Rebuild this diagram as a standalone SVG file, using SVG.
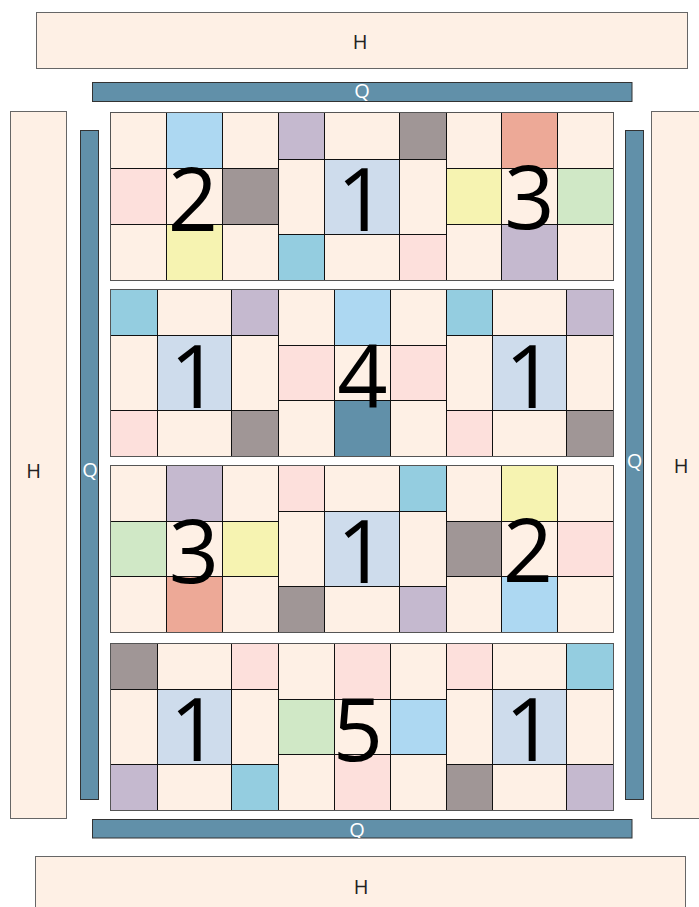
<svg xmlns="http://www.w3.org/2000/svg" width="699" height="907" viewBox="0 0 699 907">
<style>
.hb{fill:#FEF0E5;stroke:#666;stroke-width:1}
.qb{fill:#6190A9;stroke:#333;stroke-width:1}
.ht{font-family:"Open Sans","DejaVu Sans",sans-serif;font-size:20px;fill:#222;text-anchor:middle}
.qt{font-family:"Open Sans","DejaVu Sans",sans-serif;font-size:20px;fill:#fff;text-anchor:middle}
.dg{font-family:"Open Sans","DejaVu Sans",sans-serif;font-size:88px;fill:#000;text-anchor:middle}
rect.c{stroke:#111;stroke-width:1}
.o{fill:none;stroke:#555;stroke-width:1}
.p{fill:#FEF0E5}.sb{fill:#ADD8F2}.pk{fill:#FDE0DC}.gr{fill:#A09696}.lv{fill:#C5B9CF}
.cy{fill:#94CDE0}.bc{fill:#CEDCEC}.ye{fill:#F6F3B1}.sa{fill:#EDA997}.gn{fill:#D0E8C6}.st{fill:#6190A9}
</style>
<defs>
<clipPath id="cq1"><rect x="92.5" y="82.5" width="539.5" height="19"/></clipPath>
<clipPath id="cq2"><rect x="92.5" y="819.5" width="539.5" height="18.5"/></clipPath>
<clipPath id="cq3"><rect x="80.5" y="130.5" width="18" height="669"/></clipPath>
<clipPath id="cq4"><rect x="625.5" y="130.5" width="18" height="669"/></clipPath>
</defs>

<g id="h-top"><rect class="hb" x="36.5" y="12.5" width="651" height="56"/><text class="ht" x="360" y="49">H</text></g>
<g id="h-bottom"><rect class="hb" x="35.5" y="856.5" width="650" height="60"/><text class="ht" x="361" y="894">H</text></g>
<g id="h-left"><rect class="hb" x="10.5" y="111.5" width="56" height="707"/><text class="ht" x="33.5" y="477.5">H</text></g>
<g id="h-right"><rect class="hb" x="651.5" y="111.5" width="56" height="707"/><text class="ht" x="681" y="472.5">H</text></g>
<g id="q-top"><rect class="qb" x="92.5" y="82.5" width="539.5" height="19"/><text class="qt" x="362" y="97.8" clip-path="url(#cq1)">Q</text></g>
<g id="q-bottom"><rect class="qb" x="92.5" y="819.5" width="539.5" height="18.5"/><text class="qt" x="357" y="837.3" clip-path="url(#cq2)">Q</text></g>
<g id="q-left"><rect class="qb" x="80.5" y="130.5" width="18" height="669"/><text class="qt" x="90" y="477.3" clip-path="url(#cq3)">Q</text></g>
<g id="q-right"><rect class="qb" x="625.5" y="130.5" width="18" height="669"/><text class="qt" x="634.5" y="467.5" clip-path="url(#cq4)">Q</text></g>

<!-- Row 1 -->
<g id="b1a">
<rect class="c p" x="110.5" y="112.5" width="56" height="56"/><rect class="c sb" x="166.5" y="112.5" width="56" height="56"/><rect class="c p" x="222.5" y="112.5" width="56" height="56"/>
<rect class="c pk" x="110.5" y="168.5" width="56" height="56"/><rect class="c p" x="166.5" y="168.5" width="56" height="56"/><rect class="c gr" x="222.5" y="168.5" width="56" height="56"/>
<rect class="c p" x="110.5" y="224.5" width="56" height="56"/><rect class="c ye" x="166.5" y="224.5" width="56" height="56"/><rect class="c p" x="222.5" y="224.5" width="56" height="56"/>
<text class="dg" x="193" y="230.5">2</text>
</g>
<g id="b1b">
<rect class="c lv" x="278.5" y="112.5" width="46" height="47"/><rect class="c p" x="324.5" y="112.5" width="75" height="47"/><rect class="c gr" x="399.5" y="112.5" width="47" height="47"/>
<rect class="c p" x="278.5" y="159.5" width="46" height="75"/><rect class="c bc" x="324.5" y="159.5" width="75" height="75"/><rect class="c p" x="399.5" y="159.5" width="47" height="75"/>
<rect class="c cy" x="278.5" y="234.5" width="46" height="46"/><rect class="c p" x="324.5" y="234.5" width="75" height="46"/><rect class="c pk" x="399.5" y="234.5" width="47" height="46"/>
<text class="dg" x="362" y="230.5">1</text>
</g>
<g id="b1c">
<rect class="c p" x="446.5" y="112.5" width="55" height="56"/><rect class="c sa" x="501.5" y="112.5" width="56" height="56"/><rect class="c p" x="557.5" y="112.5" width="56" height="56"/>
<rect class="c ye" x="446.5" y="168.5" width="55" height="56"/><rect class="c p" x="501.5" y="168.5" width="56" height="56"/><rect class="c gn" x="557.5" y="168.5" width="56" height="56"/>
<rect class="c p" x="446.5" y="224.5" width="55" height="56"/><rect class="c lv" x="501.5" y="224.5" width="56" height="56"/><rect class="c p" x="557.5" y="224.5" width="56" height="56"/>
<text class="dg" x="529.5" y="229">3</text>
</g>

<!-- Row 2 -->
<g id="b2a">
<rect class="c cy" x="110.5" y="289.5" width="47" height="46"/><rect class="c p" x="157.5" y="289.5" width="74" height="46"/><rect class="c lv" x="231.5" y="289.5" width="47" height="46"/>
<rect class="c p" x="110.5" y="335.5" width="47" height="75"/><rect class="c bc" x="157.5" y="335.5" width="74" height="75"/><rect class="c p" x="231.5" y="335.5" width="47" height="75"/>
<rect class="c pk" x="110.5" y="410.5" width="47" height="46"/><rect class="c p" x="157.5" y="410.5" width="74" height="46"/><rect class="c gr" x="231.5" y="410.5" width="47" height="46"/>
<text class="dg" x="195" y="407.5">1</text>
</g>
<g id="b2b">
<rect class="c p" x="278.5" y="289.5" width="56" height="56"/><rect class="c sb" x="334.5" y="289.5" width="56" height="56"/><rect class="c p" x="390.5" y="289.5" width="56" height="56"/>
<rect class="c pk" x="278.5" y="345.5" width="56" height="55"/><rect class="c p" x="334.5" y="345.5" width="56" height="55"/><rect class="c pk" x="390.5" y="345.5" width="56" height="55"/>
<rect class="c p" x="278.5" y="400.5" width="56" height="56"/><rect class="c st" x="334.5" y="400.5" width="56" height="56"/><rect class="c p" x="390.5" y="400.5" width="56" height="56"/>
<text class="dg" x="362.5" y="407.5">4</text>
</g>
<g id="b2c">
<rect class="c cy" x="446.5" y="289.5" width="46" height="46"/><rect class="c p" x="492.5" y="289.5" width="74" height="46"/><rect class="c lv" x="566.5" y="289.5" width="47" height="46"/>
<rect class="c p" x="446.5" y="335.5" width="46" height="75"/><rect class="c bc" x="492.5" y="335.5" width="74" height="75"/><rect class="c p" x="566.5" y="335.5" width="47" height="75"/>
<rect class="c pk" x="446.5" y="410.5" width="46" height="46"/><rect class="c p" x="492.5" y="410.5" width="74" height="46"/><rect class="c gr" x="566.5" y="410.5" width="47" height="46"/>
<text class="dg" x="530" y="407.5">1</text>
</g>

<!-- Row 3 -->
<g id="b3a">
<rect class="c p" x="110.5" y="465.5" width="56" height="56"/><rect class="c lv" x="166.5" y="465.5" width="56" height="56"/><rect class="c p" x="222.5" y="465.5" width="56" height="56"/>
<rect class="c gn" x="110.5" y="521.5" width="56" height="55"/><rect class="c p" x="166.5" y="521.5" width="56" height="55"/><rect class="c ye" x="222.5" y="521.5" width="56" height="55"/>
<rect class="c p" x="110.5" y="576.5" width="56" height="56"/><rect class="c sa" x="166.5" y="576.5" width="56" height="56"/><rect class="c p" x="222.5" y="576.5" width="56" height="56"/>
<text class="dg" x="194" y="583">3</text>
</g>
<g id="b3b">
<rect class="c pk" x="278.5" y="465.5" width="46" height="46"/><rect class="c p" x="324.5" y="465.5" width="75" height="46"/><rect class="c cy" x="399.5" y="465.5" width="47" height="46"/>
<rect class="c p" x="278.5" y="511.5" width="46" height="75"/><rect class="c bc" x="324.5" y="511.5" width="75" height="75"/><rect class="c p" x="399.5" y="511.5" width="47" height="75"/>
<rect class="c gr" x="278.5" y="586.5" width="46" height="46"/><rect class="c p" x="324.5" y="586.5" width="75" height="46"/><rect class="c lv" x="399.5" y="586.5" width="47" height="46"/>
<text class="dg" x="362" y="583">1</text>
</g>
<g id="b3c">
<rect class="c p" x="446.5" y="465.5" width="55" height="56"/><rect class="c ye" x="501.5" y="465.5" width="56" height="56"/><rect class="c p" x="557.5" y="465.5" width="56" height="56"/>
<rect class="c gr" x="446.5" y="521.5" width="55" height="55"/><rect class="c p" x="501.5" y="521.5" width="56" height="55"/><rect class="c pk" x="557.5" y="521.5" width="56" height="55"/>
<rect class="c p" x="446.5" y="576.5" width="55" height="56"/><rect class="c sb" x="501.5" y="576.5" width="56" height="56"/><rect class="c p" x="557.5" y="576.5" width="56" height="56"/>
<text class="dg" x="528" y="582">2</text>
</g>

<!-- Row 4 -->
<g id="b4a">
<rect class="c gr" x="110.5" y="643.5" width="47" height="46"/><rect class="c p" x="157.5" y="643.5" width="74" height="46"/><rect class="c pk" x="231.5" y="643.5" width="47" height="46"/>
<rect class="c p" x="110.5" y="689.5" width="47" height="75"/><rect class="c bc" x="157.5" y="689.5" width="74" height="75"/><rect class="c p" x="231.5" y="689.5" width="47" height="75"/>
<rect class="c lv" x="110.5" y="764.5" width="47" height="46"/><rect class="c p" x="157.5" y="764.5" width="74" height="46"/><rect class="c cy" x="231.5" y="764.5" width="47" height="46"/>
<text class="dg" x="195" y="761">1</text>
</g>
<g id="b4b">
<rect class="c p" x="278.5" y="643.5" width="56" height="56"/><rect class="c pk" x="334.5" y="643.5" width="56" height="56"/><rect class="c p" x="390.5" y="643.5" width="56" height="56"/>
<rect class="c gn" x="278.5" y="699.5" width="56" height="55"/><rect class="c p" x="334.5" y="699.5" width="56" height="55"/><rect class="c sb" x="390.5" y="699.5" width="56" height="55"/>
<rect class="c p" x="278.5" y="754.5" width="56" height="56"/><rect class="c pk" x="334.5" y="754.5" width="56" height="56"/><rect class="c p" x="390.5" y="754.5" width="56" height="56"/>
<text class="dg" x="358" y="761">5</text>
</g>
<g id="b4c">
<rect class="c pk" x="446.5" y="643.5" width="46" height="46"/><rect class="c p" x="492.5" y="643.5" width="74" height="46"/><rect class="c cy" x="566.5" y="643.5" width="47" height="46"/>
<rect class="c p" x="446.5" y="689.5" width="46" height="75"/><rect class="c bc" x="492.5" y="689.5" width="74" height="75"/><rect class="c p" x="566.5" y="689.5" width="47" height="75"/>
<rect class="c gr" x="446.5" y="764.5" width="46" height="46"/><rect class="c p" x="492.5" y="764.5" width="74" height="46"/><rect class="c lv" x="566.5" y="764.5" width="47" height="46"/>
<text class="dg" x="530" y="761">1</text>
</g>

<g id="outlines">
<rect class="o" x="110.5" y="112.5" width="503" height="168"/>
<rect class="o" x="110.5" y="289.5" width="503" height="167"/>
<rect class="o" x="110.5" y="465.5" width="503" height="167"/>
<rect class="o" x="110.5" y="643.5" width="503" height="167"/>
</g>
<g id="connectors"></g>
</svg>
